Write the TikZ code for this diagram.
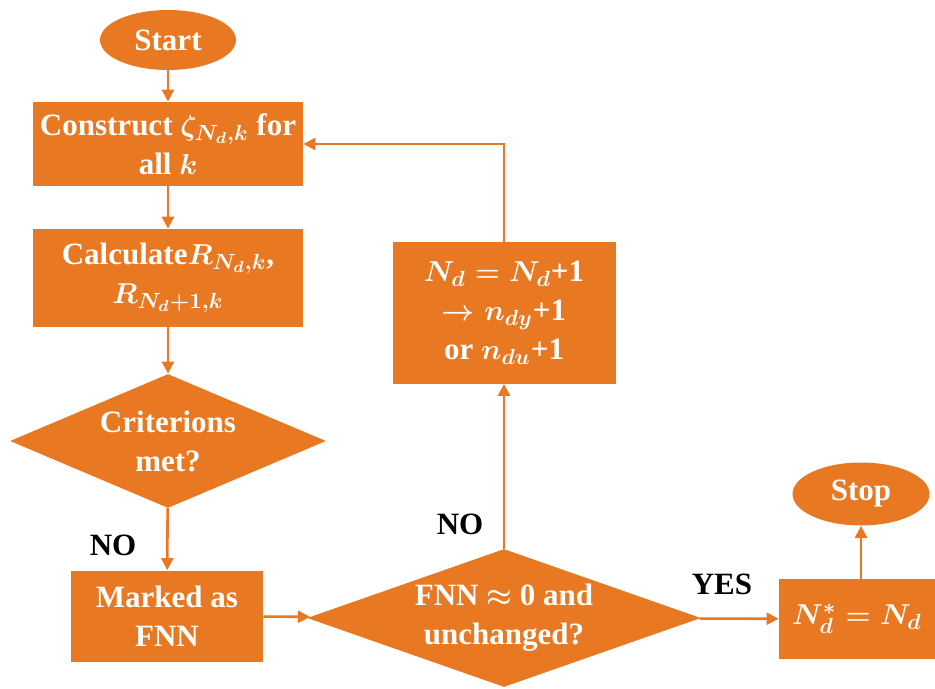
\documentclass[tikz,border=0pt]{standalone}
\usepackage{fontspec}
\setmainfont{Liberation Serif}
\usetikzlibrary{shapes.geometric,arrows.meta}
\definecolor{flow}{RGB}{232,120,34}
\tikzset{
  base/.style={fill=flow, text=white, align=center, inner sep=0pt,
    font=\bfseries\boldmath\fontsize{15.5}{19.5}\selectfont},
  term/.style={base, ellipse},
  proc/.style={base, rectangle},
  decide/.style={base, diamond},
  link/.style={draw=flow, line width=1.3pt, -{Triangle[length=6pt,width=6pt]}},
  tag/.style={font=\bfseries\fontsize{15.5}{19}\selectfont}
}
\begin{document}
\begin{tikzpicture}[x=0.5pt,y=-0.5pt]
  \useasboundingbox (0,0) rectangle (935,689);
  % left column
  \node[term, minimum width=68pt, minimum height=30pt] (start) at (168,40) {Start};
  \node[proc, minimum width=135pt, minimum height=42pt] (construct) at (168,144)
    {Construct $\zeta_{N_d,k}$ for\\ all $k$};
  \node[proc, minimum width=135pt, minimum height=49pt] (calc) at (168,278)
    {Calculate$R_{N_d,k}$,\\ $R_{N_d+1,k}$};
  \node[decide, aspect=2.6, minimum width=158pt, minimum height=67pt] (crit) at (168,441)
    {Criterions\\ met?};
  \node[proc, minimum width=96pt, minimum height=45.5pt] (mark) at (167,616)
    {Marked as\\ FNN};
  % middle and right
  \node[decide, aspect=3.2, minimum width=194pt, minimum height=69pt] (fnn) at (504,618)
    {FNN $\approx$ 0 and\\ unchanged?};
  \node[proc, minimum width=111.5pt, minimum height=70.5pt] (update) at (504,313)
    {$N_d = N_d$+1\\ $\rightarrow n_{dy}$+1\\ or $n_{du}$+1};
  \node[proc, minimum width=78pt, minimum height=40pt] (final) at (857,619)
    {$N_d^{*} = N_d$};
  \node[term, minimum width=68.5pt, minimum height=31.5pt] (stop) at (861,494) {Stop};
  % labels
  \node[tag] (no1) at (113,545) {NO};
  \node[tag] (no2) at (460,524) {NO};
  \node[tag] (yes) at (722,584) {YES};
  % connectors
  \draw[link] (start) -- (construct);
  \draw[link] (construct) -- (calc);
  \draw[link] (calc) -- (crit);
  \draw[link] (crit) -- (mark);
  \draw[link] (mark) -- (fnn);
  \draw[link] (fnn) -- (update);
  \draw[link] (update.north) |- (construct.east);
  \draw[link] (fnn) -- (final);
  \draw[link] (final.north -| stop) -- (stop);
\end{tikzpicture}
\end{document}
